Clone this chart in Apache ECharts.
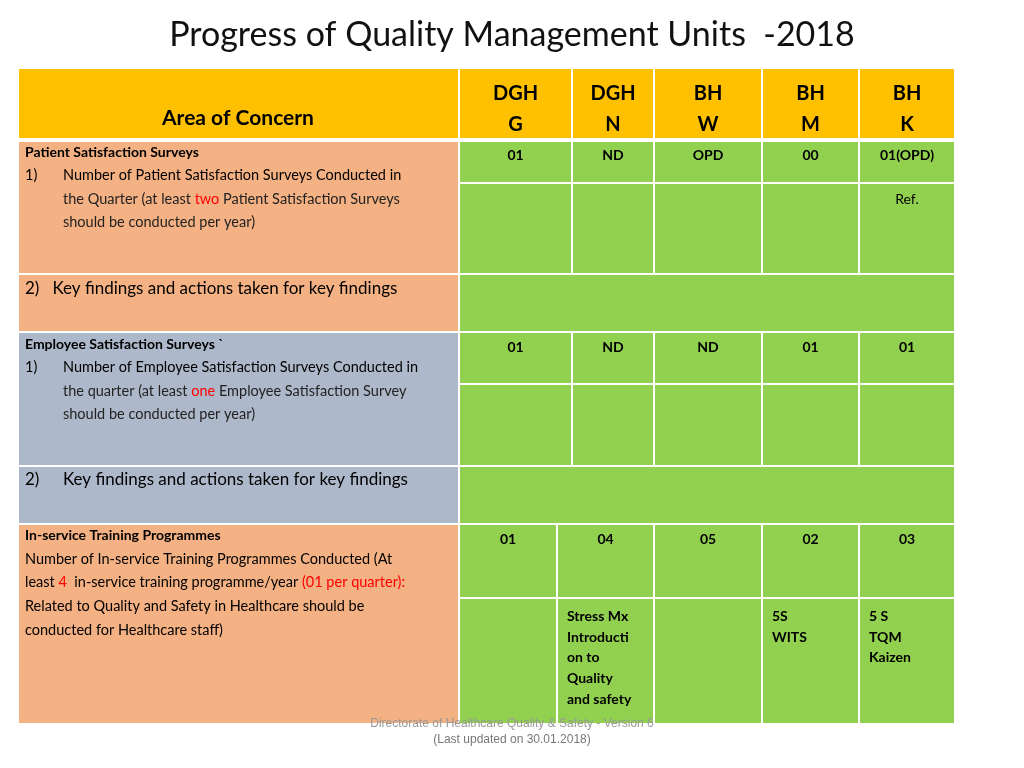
<!DOCTYPE html>
<html><head><meta charset="utf-8">
<script src="https://cdn.jsdelivr.net/npm/echarts@6/dist/echarts.min.js"></script>
<style>html,body{margin:0;padding:0;background:#fff}#c{width:1024px;height:768px}</style>
</head><body><div id="c"></div>
<script>
const title = 'Progress of Quality Management Units  -2018';
const headers = ['DGH\nG','DGH\nN','BH\nW','BH\nM','BH\nK'];
const patientCounts = ['01','ND','OPD','00','01(OPD)'];
const patientNotes = ['','','','','Ref.'];
const employeeCounts = ['01','ND','ND','01','01'];
const trainingCounts = ['01','04','05','02','03'];
const trainingTopics = ['','Stress Mx\nIntroducti\non to\nQuality\nand safety','','5S\nWITS','5 S\nTQM\nKaizen'];
const footer = ['Directorate of Healthcare Quality & Safety - Version 6','(Last updated on 30.01.2018)'];

const FONT = 'Lato, "Open Sans", sans-serif';
const YEL='#FFC000', SAL='#F4B183', BLU='#ADB9CA', GRN='#92D050';
const colsA=[459,572,654,762,859,955];
const colsB=[459,557,654,762,859,955];
const els=[];
function rect(x0,y0,x1,y1,fill){els.push({type:'rect',shape:{x:x0,y:y0,width:x1-x0,height:y1-y0},style:{fill:fill,stroke:'#fff',lineWidth:2}});}
function text(x,y,t,o){els.push({type:'text',x:x,y:y,style:Object.assign({text:t,font:'15px '+FONT,fill:'#000',textAlign:'left',textVerticalAlign:'top'},o||{})});}

// header
rect(18,68,459,139,YEL);
text(238,108,'Area of Concern',{font:'bold 21px '+FONT,textAlign:'center'});
for(let i=0;i<5;i++){rect(colsA[i],68,colsA[i+1],139,YEL);
 text((colsA[i]+colsA[i+1])/2,78,headers[i],{font:'bold 20px '+FONT,textAlign:'center',lineHeight:31});}

// left column
rect(18,141,459,274,SAL); rect(18,274,459,332,SAL);
rect(18,332,459,466,BLU); rect(18,466,459,524,BLU);
rect(18,524,459,724,SAL);
const sm='14.5px '+FONT;
text(25,145,'Patient Satisfaction Surveys',{font:'bold 14px '+FONT,textDecoration:'underline'});
text(25,168,'1)',{font:sm}); text(63,168,'Number of Patient Satisfaction Surveys Conducted in',{font:sm});
els.push({type:'text',x:63,y:192,style:{text:'the Quarter (at least {r|two} Patient Satisfaction Surveys',font:sm,fill:'#222',rich:{r:{fill:'#FF0000',font:sm}}}});
text(63,215,'should be conducted per year)',{font:sm,fill:'#222'});
text(25,280,'2)   Key findings and actions taken for key findings',{font:'17px '+FONT});
text(25,337,'Employee Satisfaction Surveys `',{font:'bold 14px '+FONT,textDecoration:'underline'});
text(25,360,'1)',{font:sm}); text(63,360,'Number of Employee Satisfaction Surveys Conducted in',{font:sm});
els.push({type:'text',x:63,y:384,style:{text:'the quarter (at least {r|one} Employee Satisfaction Survey',font:sm,fill:'#222',rich:{r:{fill:'#FF0000',font:sm}}}});
text(63,407,'should be conducted per year)',{font:sm,fill:'#222'});
text(25,471,'2)',{font:'17px '+FONT}); text(63,471,'Key findings and actions taken for key findings',{font:'17px '+FONT});
text(25,528,'In-service Training Programmes',{font:'bold 14px '+FONT,textDecoration:'underline'});
text(25,552,'Number of In-service Training Programmes Conducted (At',{font:sm});
els.push({type:'text',x:25,y:575,style:{text:'least {r|4}  in-service training programme/year {r|(01 per quarter):}',font:sm,fill:'#000',rich:{r:{fill:'#FF0000',font:sm}}}});
text(25,599,'Related to Quality and Safety in Healthcare should be',{font:sm});
text(25,623,'conducted for Healthcare staff)',{font:sm});

// right cells
const b='bold 14px '+FONT;
for(let i=0;i<5;i++){
 const x0=colsA[i],x1=colsA[i+1],cx=(x0+x1)/2;
 rect(x0,141,x1,183,GRN); text(cx,148,patientCounts[i],{font:b,textAlign:'center'});
 rect(x0,183,x1,274,GRN); if(patientNotes[i]) text(cx,192,patientNotes[i],{font:'14px '+FONT,textAlign:'center'});
 rect(x0,332,x1,384,GRN); text(cx,340,employeeCounts[i],{font:b,textAlign:'center'});
 rect(x0,384,x1,466,GRN);
}
rect(459,274,955,332,GRN); rect(459,466,955,524,GRN);
for(let i=0;i<5;i++){
 const x0=colsB[i],x1=colsB[i+1],cx=(x0+x1)/2;
 rect(x0,524,x1,598,GRN); text(cx,532,trainingCounts[i],{font:b,textAlign:'center'});
 rect(x0,598,x1,724,GRN); if(trainingTopics[i]) text(x0+10,606,trainingTopics[i],{font:b,lineHeight:20.7});
}
text(512,18,title,{font:'34px '+FONT,textAlign:'center',fill:'#111'});
text(512,718,footer[0],{font:'12px "Liberation Sans", sans-serif',textAlign:'center',fill:'#999'});
text(512,734,footer[1],{font:'12px "Liberation Sans", sans-serif',textAlign:'center',fill:'#777'});

const chart=echarts.init(document.getElementById('c'));
chart.setOption({animation:false,graphic:{elements:els}});
</script></body></html>
